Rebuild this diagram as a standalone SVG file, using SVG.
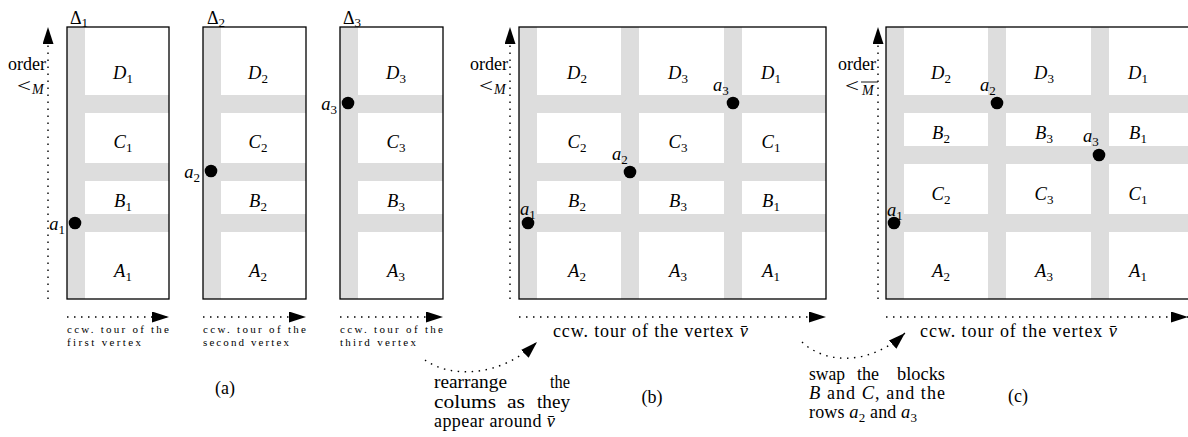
<svg xmlns="http://www.w3.org/2000/svg" width="1188" height="437" viewBox="0 0 1188 437" font-family="'Liberation Serif', 'Times New Roman', 'DejaVu Serif', serif">
<style>
.band{fill:#dddddd}
.frame{fill:none;stroke:#000;stroke-width:1.3}
.dot{fill:#000}
.m{font-family:'Liberation Serif','Times New Roman','DejaVu Serif',serif;font-size:18.5px;font-style:italic;fill:#000}
.r{font-family:'Liberation Serif','Times New Roman','DejaVu Serif',serif;font-size:18px;font-style:normal;fill:#000}
.s{font-size:13px;font-style:normal}
.lt{font-family:'Liberation Serif','Times New Roman','DejaVu Serif',serif;font-size:19px;fill:#000}
.cap{font-family:'Liberation Serif','Times New Roman','DejaVu Serif',serif;font-size:11px;fill:#000}
.dl{fill:none;stroke:#000;stroke-width:1.4;stroke-dasharray:1.5 5.5}
</style>
<defs>
<marker id="ah" markerUnits="userSpaceOnUse" markerWidth="18" markerHeight="12" refX="17" refY="5.5" orient="auto"><path d="M0,0 L17,5.5 L0,11 z" fill="#000"/></marker>
</defs>
<rect width="1188" height="437" fill="#fff"/>

<g id="panel-a1">
<rect class="band" x="67" y="27" width="18" height="272"/>
<rect class="band" x="85" y="95" width="84" height="18"/>
<rect class="band" x="85" y="163" width="84" height="18"/>
<rect class="band" x="85" y="214" width="84" height="18"/>
<rect class="frame" x="67" y="27" width="102" height="272"/>
<text class="r" x="70" y="24">Δ<tspan class="s" dy="3">1</tspan></text>
<text class="m" x="123" y="79" text-anchor="middle">D<tspan class="s" dy="4">1</tspan></text>
<text class="m" x="123" y="148" text-anchor="middle">C<tspan class="s" dy="4">1</tspan></text>
<text class="m" x="123" y="207" text-anchor="middle">B<tspan class="s" dy="4">1</tspan></text>
<text class="m" x="123" y="277" text-anchor="middle">A<tspan class="s" dy="4">1</tspan></text>
<circle class="dot" cx="75" cy="223" r="6.3"/>
<text class="m" x="65" y="230" text-anchor="end">a<tspan class="s" dy="4">1</tspan></text>
<text class="cap" x="67" y="333" textLength="102" lengthAdjust="spacing">ccw. tour of the</text>
<text class="cap" x="67" y="346" textLength="74" lengthAdjust="spacing">first vertex</text>
</g>

<g id="panel-a2">
<rect class="band" x="203" y="27" width="18" height="272"/>
<rect class="band" x="221" y="95" width="85" height="18"/>
<rect class="band" x="221" y="163" width="85" height="18"/>
<rect class="band" x="221" y="214" width="85" height="18"/>
<rect class="frame" x="203" y="27" width="103" height="272"/>
<text class="r" x="207" y="24">Δ<tspan class="s" dy="3">2</tspan></text>
<text class="m" x="258" y="79" text-anchor="middle">D<tspan class="s" dy="4">2</tspan></text>
<text class="m" x="258" y="148" text-anchor="middle">C<tspan class="s" dy="4">2</tspan></text>
<text class="m" x="258" y="207" text-anchor="middle">B<tspan class="s" dy="4">2</tspan></text>
<text class="m" x="258" y="277" text-anchor="middle">A<tspan class="s" dy="4">2</tspan></text>
<circle class="dot" cx="211" cy="171" r="6.3"/>
<text class="m" x="200" y="178" text-anchor="end">a<tspan class="s" dy="4">2</tspan></text>
<text class="cap" x="203" y="333" textLength="103" lengthAdjust="spacing">ccw. tour of the</text>
<text class="cap" x="203" y="346" textLength="86" lengthAdjust="spacing">second vertex</text>
</g>

<g id="panel-a3">
<rect class="band" x="340" y="27" width="18" height="272"/>
<rect class="band" x="358" y="95" width="85" height="18"/>
<rect class="band" x="358" y="163" width="85" height="18"/>
<rect class="band" x="358" y="214" width="85" height="18"/>
<rect class="frame" x="340" y="27" width="103" height="272"/>
<text class="r" x="343" y="24">Δ<tspan class="s" dy="3">3</tspan></text>
<text class="m" x="396" y="79" text-anchor="middle">D<tspan class="s" dy="4">3</tspan></text>
<text class="m" x="396" y="148" text-anchor="middle">C<tspan class="s" dy="4">3</tspan></text>
<text class="m" x="396" y="207" text-anchor="middle">B<tspan class="s" dy="4">3</tspan></text>
<text class="m" x="396" y="277" text-anchor="middle">A<tspan class="s" dy="4">3</tspan></text>
<circle class="dot" cx="348" cy="103" r="6.3"/>
<text class="m" x="337" y="110" text-anchor="end">a<tspan class="s" dy="4">3</tspan></text>
<text class="cap" x="340" y="333" textLength="103" lengthAdjust="spacing">ccw. tour of the</text>
<text class="cap" x="340" y="346" textLength="76" lengthAdjust="spacing">third vertex</text>
</g>

<g id="axis-a">
<text class="r" x="46" y="70" text-anchor="end">order</text>
<text class="lt" x="17" y="92" textLength="14" lengthAdjust="spacingAndGlyphs">&lt;</text>
<text class="m" x="32" y="94" style="font-size:14px">M</text>
<text class="r" x="225" y="394" text-anchor="middle">(a)</text>
</g>

<g id="panel-b">
<rect class="band" x="519" y="27" width="18" height="272"/>
<rect class="band" x="621" y="27" width="18" height="272"/>
<rect class="band" x="724" y="27" width="18" height="272"/>
<rect class="band" x="519" y="95" width="307" height="18"/>
<rect class="band" x="519" y="163" width="307" height="18"/>
<rect class="band" x="519" y="214" width="307" height="18"/>
<rect class="frame" x="519" y="27" width="307" height="272"/>
<text class="m" x="577" y="79" text-anchor="middle">D<tspan class="s" dy="4">2</tspan></text>
<text class="m" x="678" y="79" text-anchor="middle">D<tspan class="s" dy="4">3</tspan></text>
<text class="m" x="771" y="79" text-anchor="middle">D<tspan class="s" dy="4">1</tspan></text>
<text class="m" x="577" y="148" text-anchor="middle">C<tspan class="s" dy="4">2</tspan></text>
<text class="m" x="678" y="148" text-anchor="middle">C<tspan class="s" dy="4">3</tspan></text>
<text class="m" x="771" y="148" text-anchor="middle">C<tspan class="s" dy="4">1</tspan></text>
<text class="m" x="577" y="207" text-anchor="middle">B<tspan class="s" dy="4">2</tspan></text>
<text class="m" x="678" y="207" text-anchor="middle">B<tspan class="s" dy="4">3</tspan></text>
<text class="m" x="771" y="207" text-anchor="middle">B<tspan class="s" dy="4">1</tspan></text>
<text class="m" x="577" y="277" text-anchor="middle">A<tspan class="s" dy="4">2</tspan></text>
<text class="m" x="678" y="277" text-anchor="middle">A<tspan class="s" dy="4">3</tspan></text>
<text class="m" x="771" y="277" text-anchor="middle">A<tspan class="s" dy="4">1</tspan></text>
<circle class="dot" cx="733" cy="103" r="6.3"/>
<text class="m" x="713" y="91">a<tspan class="s" dy="4">3</tspan></text>
<circle class="dot" cx="630" cy="172" r="6.3"/>
<text class="m" x="612" y="160">a<tspan class="s" dy="4">2</tspan></text>
<circle class="dot" cx="528" cy="223" r="6.3"/>
<text class="m" x="520" y="215">a<tspan class="s" dy="4">1</tspan></text>
<text class="r" x="508" y="70" text-anchor="end">order</text>
<text class="lt" x="479" y="92" textLength="14" lengthAdjust="spacingAndGlyphs">&lt;</text>
<text class="m" x="494" y="94" style="font-size:14px">M</text>
<text class="r" x="553" y="337" textLength="195" lengthAdjust="spacing">ccw. tour of the vertex <tspan class="m">v̄</tspan></text>
<text class="r" x="652" y="403" text-anchor="middle">(b)</text>
</g>

<g id="panel-c">
<rect class="band" x="886" y="27" width="18" height="272"/>
<rect class="band" x="988" y="27" width="18" height="272"/>
<rect class="band" x="1091" y="27" width="18" height="272"/>
<rect class="band" x="886" y="95" width="307" height="18"/>
<rect class="band" x="886" y="146" width="307" height="18"/>
<rect class="band" x="886" y="214" width="307" height="18"/>
<rect class="frame" x="886" y="27" width="307" height="272"/>
<text class="m" x="941" y="79" text-anchor="middle">D<tspan class="s" dy="4">2</tspan></text>
<text class="m" x="1044" y="79" text-anchor="middle">D<tspan class="s" dy="4">3</tspan></text>
<text class="m" x="1138" y="79" text-anchor="middle">D<tspan class="s" dy="4">1</tspan></text>
<text class="m" x="941" y="139" text-anchor="middle">B<tspan class="s" dy="4">2</tspan></text>
<text class="m" x="1044" y="139" text-anchor="middle">B<tspan class="s" dy="4">3</tspan></text>
<text class="m" x="1138" y="139" text-anchor="middle">B<tspan class="s" dy="4">1</tspan></text>
<text class="m" x="941" y="200" text-anchor="middle">C<tspan class="s" dy="4">2</tspan></text>
<text class="m" x="1044" y="200" text-anchor="middle">C<tspan class="s" dy="4">3</tspan></text>
<text class="m" x="1138" y="200" text-anchor="middle">C<tspan class="s" dy="4">1</tspan></text>
<text class="m" x="941" y="277" text-anchor="middle">A<tspan class="s" dy="4">2</tspan></text>
<text class="m" x="1044" y="277" text-anchor="middle">A<tspan class="s" dy="4">3</tspan></text>
<text class="m" x="1138" y="277" text-anchor="middle">A<tspan class="s" dy="4">1</tspan></text>
<circle class="dot" cx="997" cy="103" r="6.3"/>
<text class="m" x="980" y="91">a<tspan class="s" dy="4">2</tspan></text>
<circle class="dot" cx="1099" cy="155" r="6.3"/>
<text class="m" x="1083" y="142">a<tspan class="s" dy="4">3</tspan></text>
<circle class="dot" cx="894" cy="223" r="6.3"/>
<text class="m" x="887" y="216">a<tspan class="s" dy="4">1</tspan></text>
<text class="r" x="876" y="70" text-anchor="end">order</text>
<text class="lt" x="845" y="92" textLength="14" lengthAdjust="spacingAndGlyphs">&lt;</text>
<text class="m" x="862" y="95" style="font-size:14px">M</text>
<line x1="861" y1="82" x2="878" y2="82" stroke="#000" stroke-width="0.9"/>
<text class="r" x="920" y="337" textLength="197" lengthAdjust="spacing">ccw. tour of the vertex <tspan class="m">v̄</tspan></text>
<text class="r" x="1018" y="402" text-anchor="middle">(c)</text>
</g>

<g id="notes">
<text class="r" x="434" y="388" textLength="73" lengthAdjust="spacingAndGlyphs">rearrange</text>
<text class="r" x="550" y="388" textLength="20" lengthAdjust="spacingAndGlyphs">the</text>
<text class="r" x="434" y="408" textLength="62" lengthAdjust="spacingAndGlyphs">colums</text>
<text class="r" x="507" y="408" textLength="18" lengthAdjust="spacingAndGlyphs">as</text>
<text class="r" x="537" y="408" textLength="33" lengthAdjust="spacingAndGlyphs">they</text>
<text class="r" x="434" y="427" textLength="121" lengthAdjust="spacing">appear around <tspan class="m">v̄</tspan></text>
<text class="r" x="809" y="380" textLength="36" lengthAdjust="spacingAndGlyphs">swap</text>
<text class="r" x="857" y="380" textLength="22" lengthAdjust="spacingAndGlyphs">the</text>
<text class="r" x="897" y="380" textLength="48" lengthAdjust="spacingAndGlyphs">blocks</text>
<text class="r" x="809" y="399" textLength="136" lengthAdjust="spacing"><tspan class="m">B</tspan> and <tspan class="m">C</tspan>, and the</text>
<text class="r" x="809" y="418" textLength="108" lengthAdjust="spacing">rows <tspan class="m">a</tspan><tspan class="s" dy="4">2</tspan><tspan dy="-4"> and </tspan><tspan class="m">a</tspan><tspan class="s" dy="4">3</tspan></text>
</g>

<g id="connectors">
<path class="dl" d="M48,299 L48,27" marker-end="url(#ah)"/>
<path class="dl" d="M510,299 L510,27" marker-end="url(#ah)"/>
<path class="dl" d="M878,299 L878,27" marker-end="url(#ah)"/>
<path class="dl" d="M67,317 L169,317" marker-end="url(#ah)"/>
<path class="dl" d="M203,317 L306,317" marker-end="url(#ah)"/>
<path class="dl" d="M340,317 L443,317" marker-end="url(#ah)"/>
<path class="dl" d="M519,317 L826,317" marker-end="url(#ah)"/>
<path class="dl" d="M886,317 L1188,317" marker-end="url(#ah)"/>
<path class="dl" d="M425,360 C450,378 500,378 537,342" marker-end="url(#ah)"/>
<path class="dl" d="M802,342 C825,364 870,366 905,333" marker-end="url(#ah)"/>
</g>
</svg>
